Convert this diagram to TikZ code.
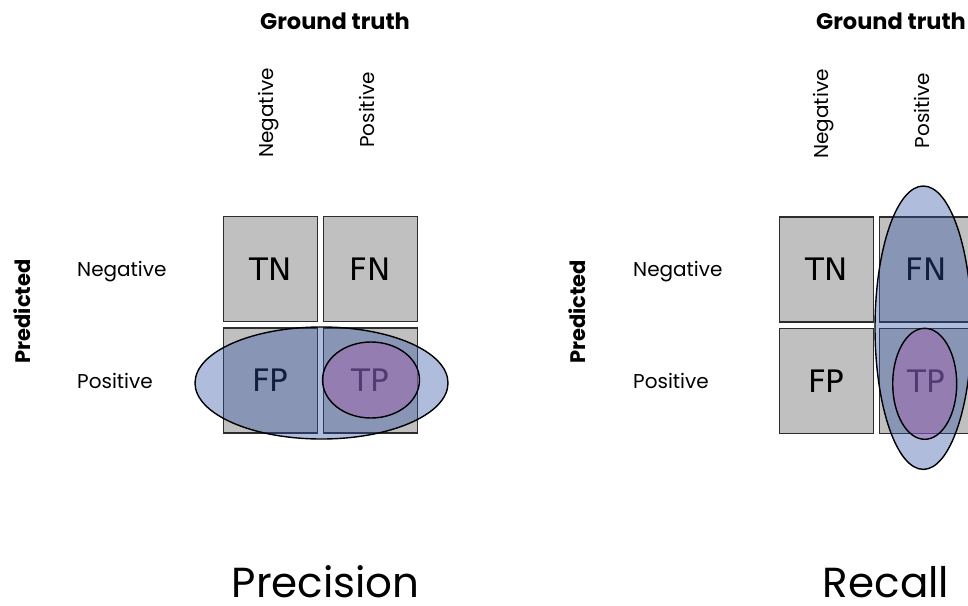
\documentclass[tikz,border=0pt]{standalone}
\usepackage{fontspec}
\setmainfont{Poppins}
\newfontfamily\dvfont{DejaVu Sans}
\definecolor{cellgray}{RGB}{192,192,192}
\definecolor{cellline}{RGB}{45,45,45}
\definecolor{ellblue}{RGB}{45,79,163}
\definecolor{ellpurple}{RGB}{162,96,174}
\begin{document}
\begin{tikzpicture}[x=1pt,y=-1pt,
  cell/.style={draw=cellline, line width=1.6pt, fill=cellgray, minimum width=94pt,
    minimum height=105pt, inner sep=0pt, anchor=north west,
    font=\dvfont\fontsize{31}{31}\selectfont},
  lbl/.style={inner sep=0pt, font=\fontsize{20}{22}\selectfont},
  title/.style={inner sep=0pt, font=\bfseries\fontsize{22.5}{24}\selectfont},
  sidetitle/.style={inner sep=0pt, font=\bfseries\fontsize{21}{24}\selectfont},
  big/.style={inner sep=0pt, text depth=0pt, font=\fontsize{42}{46}\selectfont},
  blueset/.style={fill=ellblue, fill opacity=0.38},
  purpleset/.style={fill=ellpurple, fill opacity=0.45},
  setline/.style={draw=black, line width=1.4pt}]
\useasboundingbox (0,0) rectangle (968,605);
\clip (0,0) rectangle (968,605);

% ---------------- Precision ----------------
\node[title, anchor=base] (lgt) at (335,29) {Ground truth};
\node[lbl, rotate=90] (lcneg) at (268.5,113) {Negative};
\node[lbl, rotate=90] (lcpos) at (366.5,110) {Positive};
\node[sidetitle, rotate=90] (lpred) at (22,311.5) {Predicted};
\node[lbl, anchor=base west] (lrneg) at (77,276) {Negative};
\node[lbl, anchor=base west] (lrpos) at (77,388) {Positive};

\node[cell] (ltn) at (222.5,215.5) {TN};
\node[cell] (lfn) at (322.5,215.5) {FN};
\node[cell] (lfp) at (222.5,327) {FP};
\node[cell] (ltp) at (322.5,327) {TP};

\fill[blueset] (321.5,383) ellipse [x radius=126.5pt, y radius=56pt];
\fill[purpleset] (371,380) ellipse [x radius=48.5pt, y radius=38pt];
\draw[setline] (321.5,383) ellipse [x radius=126.5pt, y radius=56pt];
\draw[setline] (371,380) ellipse [x radius=48.5pt, y radius=38pt];

\node[big, anchor=base] (prec) at (325.7,597) {Precision};

% ---------------- Recall ----------------
\node[title, anchor=base] (rgt) at (891,29) {Ground truth};
\node[lbl, rotate=90] (rcneg) at (824,114) {Negative};
\node[lbl, rotate=90] (rcpos) at (921.7,110.5) {Positive};
\node[sidetitle, rotate=90] (rpred) at (577.5,312) {Predicted};
\node[lbl, anchor=base west] (rrneg) at (633,276) {Negative};
\node[lbl, anchor=base west] (rrpos) at (633,388) {Positive};

\node[cell] (rtn) at (778.5,216) {TN};
\node[cell] (rfn) at (878.5,216) {FN};
\node[cell] (rfp) at (778.5,327.5) {FP};
\node[cell] (rtp) at (878.5,327.5) {TP};

\fill[blueset] (923.3,327.7) ellipse [x radius=48.3pt, y radius=141.7pt];
\fill[purpleset] (924.7,383.8) ellipse [x radius=32pt, y radius=55.5pt];
\draw[setline] (923.3,327.7) ellipse [x radius=48.3pt, y radius=141.7pt];
\draw[setline] (924.7,383.8) ellipse [x radius=32pt, y radius=55.5pt];

\node[big, anchor=base] (rec) at (886,597) {Recall};
\end{tikzpicture}
\end{document}
